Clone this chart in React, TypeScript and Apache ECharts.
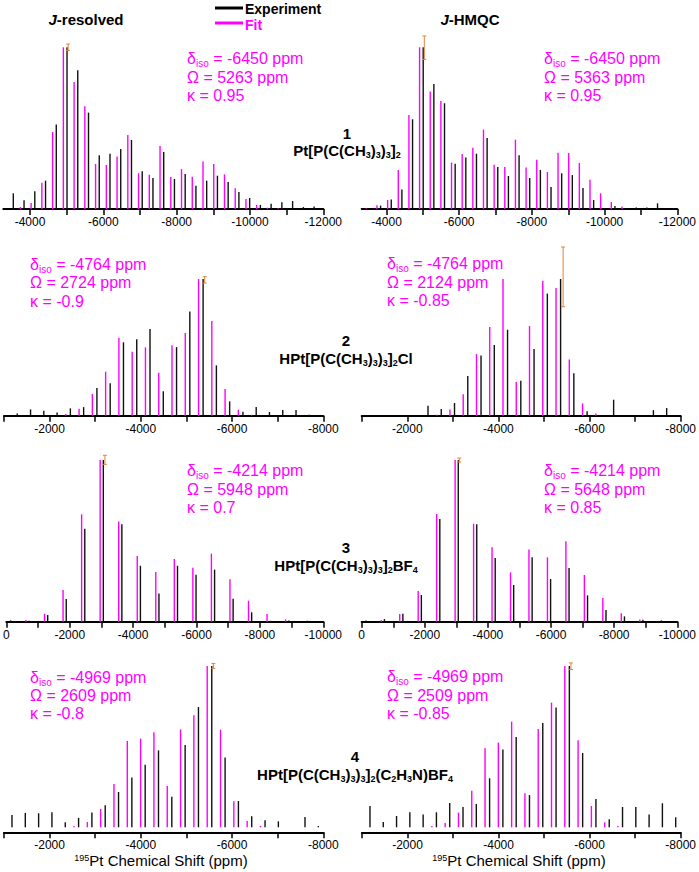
import React, { useEffect, useRef } from "react";
import * as echarts from "echarts";

const FONT = 'Arial, "Liberation Sans", Helvetica, sans-serif';
const BLACK = "#111111";
const MAGENTA = "#ff00ff";
const ORANGE = "#e0823a";

// ---------- Row 1 : Pt[P(C(CH3)3)3]2 ----------
const shiftExp1 = [-3545, -3838, -4131, -4424, -4717, -5010, -5303, -5596, -5889, -6182, -6475, -6768, -7061, -7354, -7647, -7940, -8233, -8526, -8819, -9112, -9405, -9698, -9991, -10284, -10577, -10870, -11163, -11456, -11749];
const shiftFit1 = [-3445, -3738, -4031, -4324, -4617, -4910, -5203, -5496, -5789, -6082, -6375, -6668, -6961, -7254, -7547, -7840, -8133, -8426, -8719, -9012, -9305, -9598, -9891, -10184, -10477, -10770];
const expJres1 = [9.7, 5.4, 10.9, 17.5, 52.2, 100, 85.8, 59.6, 33.2, 34.2, 37.1, 42.7, 23.3, 19.2, 35.3, 18.6, 21.6, 14.4, 17.5, 20.6, 16.7, 10.5, 6.8, 2.5, 3.3, 4.1, 4.9, 1.2, 1.6];
const fitJres1 = [0, 1.2, 3.7, 16.3, 47.6, 100, 78.6, 63.5, 27.8, 27.2, 32.4, 45.8, 22.1, 21.2, 39.0, 19.8, 24.7, 20.0, 29.3, 27.8, 21.4, 12.8, 6.2, 2.5, 0.8, 0.4];
const expHmqc1 = [0, 2.1, 5.8, 12.0, 55.5, 100, 77.3, 65.4, 28.0, 31.8, 34.2, 43.9, 26.0, 20.4, 33.2, 19.2, 24.1, 13.6, 22.1, 21.0, 13.0, 5.6, 0.5, 1.9, 0.5, 1.0, 1.0, 3.5, 0];
const fitHmqc1 = [0.4, 2.3, 5.6, 24.1, 58.1, 100, 72.6, 66.8, 28.7, 34.0, 37.9, 49.1, 27.4, 26.0, 42.9, 25.6, 30.5, 22.9, 34.8, 34.6, 28.5, 18.1, 9.7, 4.3, 1.6];
const errJres1 = [[-5040, 98, 102]];
const errHmqc1 = [[-5040, 92.5, 107]];

// ---------- Row 2 : HPt[P(C(CH3)3)3]2Cl ----------
const shiftExp2 = [-1291, -1582, -1873, -2164, -2455, -2746, -3037, -3328, -3619, -3910, -4201, -4492, -4783, -5074, -5365, -5656, -5947, -6238, -6529, -6820, -7111, -7402, -7693];
const shiftFit2 = [-1191, -1482, -1773, -2064, -2355, -2646, -2937, -3228, -3519, -3810, -4101, -4392, -4683, -4974, -5265, -5556, -5847, -6138, -6429];
const expJres2 = [1.7, 4.6, 3.7, 2.4, 5.4, 6.3, 20.2, 23.7, 53.7, 55.9, 63.4, 17.8, 50.2, 76.3, 100, 36.8, 10.5, 2.9, 6.3, 2.7, 4.1, 4.1, 0.7];
const fitJres2 = [0, 0, 0, 0, 1.2, 5.1, 15.9, 32.2, 57.1, 46.8, 50.0, 31.5, 51.5, 60.5, 100, 69.3, 19.5, 4.4, 0.7];
const expHmqc2 = [0, 0, 0, 0, 7.3, 4.9, 9.3, 29.0, 44.1, 51.7, 62.9, 25.6, 48.8, 89.3, 100, 31.0, 3.2, 0, 11.7, 0, 0, 4.1, 5.6];
const fitHmqc2 = [0, 0, 0, 0, 0, 0.7, 4.6, 15.6, 45.1, 64.9, 100, 24.6, 65.6, 98.8, 93.4, 41.2, 9.0, 1.7];
const errJres2 = [[-5400, 97, 101.7]];
const errHmqc2 = [[-5420, 79.7, 123.4]];

// ---------- Row 3 : HPt[P(C(CH3)3)3]2BF4 ----------
const shiftExp3 = [-135, -720, -1305, -1890, -2475, -3060, -3645, -4230, -4815, -5400, -5985, -6570, -7155, -7740, -8325, -8910, -9495];
const shiftFit3 = [-35, -620, -1205, -1790, -2375, -2960, -3545, -4130, -4715, -5300, -5885, -6470, -7055, -7640, -8225, -8810];
const expJres3 = [0.8, 0.6, 4.1, 14.0, 57.5, 100, 60.2, 34.6, 17.5, 34.6, 29.1, 32.2, 14.2, 5.8, 0.6, 0.8, 0.6];
const fitJres3 = [0, 1.0, 4.9, 19.6, 66.4, 100, 61.9, 40.6, 30.7, 38.8, 33.4, 42.1, 26.2, 13.0, 4.7, 1.4];
const expHmqc3 = [0.8, 1.6, 4.9, 16.5, 63.5, 100, 60.2, 39.4, 22.7, 39.8, 26.4, 33.2, 16.3, 7.2, 3.3, 1.2, 0.8];
const fitHmqc3 = [0, 1.0, 4.7, 19.0, 66.6, 100, 60.6, 46.0, 30.5, 44.7, 39.8, 49.7, 28.9, 14.6, 5.2, 1.4];
const errJres3 = [[-3110, 97.3, 102.9]];
const errHmqc3 = [[-3090, 98.7, 101.2]];

// ---------- Row 4 : HPt[P(C(CH3)3)3]2(C2H3N)BF4 ----------
const shiftExp4 = [-1175, -1467, -1759, -2051, -2343, -2635, -2927, -3219, -3511, -3803, -4095, -4387, -4679, -4971, -5263, -5555, -5847, -6139, -6431, -6723, -7015, -7307, -7599, -7891];
const shiftFit4 = [-1075, -1367, -1659, -1951, -2243, -2535, -2827, -3119, -3411, -3703, -3995, -4287, -4579, -4871, -5163, -5455, -5747, -6039, -6331, -6623];
const expJres4 = [7.6, 8.9, 8.7, 9.3, 3.1, 5.8, 9.1, 13.6, 21.9, 30.8, 38.8, 47.7, 19.0, 51.0, 74.6, 100, 43.2, 16.3, 6.8, 4.3, 3.7, 0, 6.4, 0.8];
const fitJres4 = [0, 0, 0, 0, 0, 0.8, 3.3, 11.4, 26.9, 53.5, 55.0, 58.9, 25.6, 60.7, 69.4, 100, 60.5, 16.1, 3.9, 0.8];
const expHmqc4 = [13.2, 3.3, 7.0, 9.3, 7.9, 9.3, 15.1, 12.6, 14.5, 30.4, 48.3, 56.0, 20.0, 64.7, 74.2, 100, 46.1, 17.6, 5.0, 12.6, 12.6, 7.9, 14.9, 6.2];
const fitHmqc4 = [0, 0, 0, 0, 0, 0.8, 2.7, 9.1, 22.7, 49.0, 52.5, 65.5, 21.1, 61.0, 77.3, 100, 53.9, 13.2, 3.1, 0.8];
const errJres4 = [[-5590, 98.5, 101.6]];
const errHmqc4 = [[-5590, 97.8, 101.9]];

// ---------- axis ticks / labels ----------
const ticksRow1 = [-4000, -5000, -6000, -7000, -8000, -9000, -10000, -11000, -12000];
const labelsRow1 = [-4000, -6000, -8000, -10000, -12000];
const ticksRow2 = [-1000, -2000, -3000, -4000, -5000, -6000, -7000, -8000];
const labelsRow2 = [-2000, -4000, -6000, -8000];
const ticksRow3 = [0, -1000, -2000, -3000, -4000, -5000, -6000, -7000, -8000, -9000, -10000];
const labelsRow3 = [0, -2000, -4000, -6000, -8000, -10000];
const ticksRow4 = [-1000, -2000, -3000, -4000, -5000, -6000, -7000, -8000];
const labelsRow4 = [-2000, -4000, -6000, -8000];

// ---------- fit parameters (δiso, Ω, κ) ----------
const paramsJres = [["-6450", "5263", "0.95"], ["-4764", "2724", "-0.9"], ["-4214", "5948", "0.7"], ["-4969", "2609", "-0.8"]];
const paramsHmqc = [["-6450", "5363", "0.95"], ["-4764", "2124", "-0.85"], ["-4214", "5648", "0.85"], ["-4969", "2509", "-0.85"]];
const compoundNumbers = ["1", "2", "3", "4"];
const compoundFormulas = ["Pt[P(C(CH_3)_3)_3]_2", "HPt[P(C(CH_3)_3)_3]_2Cl", "HPt[P(C(CH_3)_3)_3]_2BF_4", "HPt[P(C(CH_3)_3)_3]_2(C_2H_3N)BF_4"];

// ---------- layout (pixels) ----------
const panels = [
  { exp: shiftExp1, expH: expJres1, fit: shiftFit1, fitH: fitJres1, err: errJres1, left: 3.3, top: 47.3, width: 320, height: 161.7, min: -12000, max: -3272, ymin: 0, ticks: ticksRow1, labels: labelsRow1 },
  { exp: shiftExp1, expH: expHmqc1, fit: shiftFit1, fitH: fitHmqc1, err: errHmqc1, left: 361.7, top: 47.3, width: 318.3, height: 161.7, min: -12000, max: -3318, ymin: 0, ticks: ticksRow1, labels: labelsRow1 },
  { exp: shiftExp2, expH: expJres2, fit: shiftFit2, fitH: fitJres2, err: errJres2, left: 4, top: 279, width: 319.3, height: 136.7, min: -8000, max: -1000, ymin: 0, ticks: ticksRow2, labels: labelsRow2 },
  { exp: shiftExp2, expH: expHmqc2, fit: shiftFit2, fitH: fitHmqc2, err: errHmqc2, left: 361.7, top: 279, width: 319.3, height: 136.7, min: -8000, max: -1000, ymin: 0, ticks: ticksRow2, labels: labelsRow2 },
  { exp: shiftExp3, expH: expJres3, fit: shiftFit3, fitH: fitJres3, err: errJres3, left: 4, top: 460, width: 319.3, height: 161.7, min: -10000, max: 0, ymin: 0, ticks: ticksRow3, labels: labelsRow3 },
  { exp: shiftExp3, expH: expHmqc3, fit: shiftFit3, fitH: fitHmqc3, err: errHmqc3, left: 361.7, top: 460, width: 319.3, height: 161.7, min: -10000, max: 0, ymin: 0, ticks: ticksRow3, labels: labelsRow3 },
  { exp: shiftExp4, expH: expJres4, fit: shiftFit4, fitH: fitJres4, err: errJres4, left: 4, top: 666, width: 319.3, height: 166.3, min: -8000, max: -1000, ymin: -3.1, ticks: ticksRow4, labels: labelsRow4 },
  { exp: shiftExp4, expH: expHmqc4, fit: shiftFit4, fitH: fitHmqc4, err: errHmqc4, left: 362, top: 666, width: 319, height: 166.3, min: -8000, max: -1000, ymin: -3.1, ticks: ticksRow4, labels: labelsRow4 },
];
const annotationPos = [
  { x: 187, y: [58, 77, 95] }, { x: 544, y: [58, 77, 95] },
  { x: 30, y: [264, 282, 301] }, { x: 387, y: [263, 282, 300] },
  { x: 187, y: [470, 489, 507] }, { x: 544, y: [470, 489, 507] },
  { x: 30, y: [677, 695, 713] }, { x: 387, y: [676, 695, 713] },
];
const compoundPos = [
  { x: 347, yn: 133, yf: 150 },
  { x: 346, yn: 340, yf: 358 },
  { x: 346, yn: 547, yf: 565 },
  { x: 355, yn: 756, yf: 774 },
];

function chemRich(formula: string): string {
  let out = "";
  let buf = "";
  for (let i = 0; i < formula.length; i++) {
    const c = formula[i];
    if (c === "_") {
      if (buf) { out += "{b|" + buf + "}"; buf = ""; }
      out += "{s|" + formula[i + 1] + "}";
      i++;
    } else buf += c;
  }
  if (buf) out += "{b|" + buf + "}";
  return out;
}

function stickRender(color: string) {
  return (params: any, api: any) => {
    const x = api.value(0);
    const h = api.value(1);
    const p0 = api.coord([x, 0]);
    const p1 = api.coord([x, h]);
    return {
      type: "line",
      shape: { x1: p0[0], y1: p0[1], x2: p1[0], y2: p1[1] },
      style: { stroke: color, lineWidth: 1.4 },
    };
  };
}

function errRender(params: any, api: any) {
  const x = api.value(0);
  const p0 = api.coord([x, api.value(1)]);
  const p1 = api.coord([x, api.value(2)]);
  const w = 2;
  const st = { stroke: ORANGE, lineWidth: 1 };
  return {
    type: "group",
    children: [
      { type: "line", shape: { x1: p0[0], y1: p0[1], x2: p1[0], y2: p1[1] }, style: st },
      { type: "line", shape: { x1: p0[0] - w, y1: p0[1], x2: p0[0] + w, y2: p0[1] }, style: st },
      { type: "line", shape: { x1: p1[0] - w, y1: p1[1], x2: p1[0] + w, y2: p1[1] }, style: st },
    ],
  };
}

function buildOption() {
  const grid = panels.map((p) => ({ left: p.left, top: p.top, width: p.width, height: p.height, show: false }));
  const xAxis = panels.map((p, i) => ({
    type: "value",
    gridIndex: i,
    min: p.min,
    max: p.max,
    inverse: true,
    position: "bottom",
    axisLine: { show: true, onZero: false, lineStyle: { color: "#000", width: 2 } },
    axisTick: { show: true, customValues: p.ticks, length: 6, inside: false, lineStyle: { color: "#000", width: 1.5 } },
    axisLabel: {
      show: true,
      customValues: p.labels,
      fontSize: 12,
      lineHeight: 12,
      color: "#000",
      margin: 7,
      fontFamily: FONT,
      formatter: (v: number) => String(v),
    },
    splitLine: { show: false },
  }));
  const yAxis = panels.map((p, i) => ({ type: "value", gridIndex: i, min: p.ymin, max: 100, show: false }));
  const series: any[] = [];
  panels.forEach((p, i) => {
    series.push({
      type: "custom",
      coordinateSystem: "cartesian2d",
      xAxisIndex: i,
      yAxisIndex: i,
      clip: false,
      silent: true,
      encode: { x: 0, y: 1 },
      data: p.fit.map((x, k) => [x, p.fitH[k] || 0]).filter((d) => d[1] > 0),
      renderItem: stickRender(MAGENTA),
    });
    series.push({
      type: "custom",
      coordinateSystem: "cartesian2d",
      xAxisIndex: i,
      yAxisIndex: i,
      clip: false,
      silent: true,
      encode: { x: 0, y: 1 },
      data: p.exp.map((x, k) => [x, p.expH[k] || 0]).filter((d) => d[1] > 0),
      renderItem: stickRender(BLACK),
    });
    series.push({
      type: "custom",
      coordinateSystem: "cartesian2d",
      xAxisIndex: i,
      yAxisIndex: i,
      clip: false,
      silent: true,
      encode: { x: 0, y: [1, 2] },
      data: p.err,
      renderItem: errRender,
    });
  });

  const graphic: any[] = [];
  const text = (x: number, y: number, t: string, rich: any, align = "left") => ({
    type: "text",
    x,
    y,
    silent: true,
    style: { text: t, rich, align, verticalAlign: "middle", textAlign: align, textVerticalAlign: "middle", fontFamily: FONT },
  });

  // header
  const hdrRich = {
    i: { fontSize: 15, lineHeight: 13, fontWeight: "bold", fontStyle: "italic", fontFamily: FONT, fill: "#000" },
    b: { fontSize: 15, lineHeight: 13, fontWeight: "bold", fontFamily: FONT, fill: "#000" },
  };
  const legRich = {
    b: { fontSize: 14, lineHeight: 13, fontWeight: "bold", fontFamily: FONT, fill: "#000" },
    m: { fontSize: 14, lineHeight: 13, fontWeight: "bold", fontFamily: FONT, fill: MAGENTA },
  };
  graphic.push(text(86, 19, "{i|J}{b|-resolved}", hdrRich, "center"));
  graphic.push(text(470, 19, "{i|J}{b|-HMQC}", hdrRich, "center"));
  graphic.push({ type: "line", silent: true, shape: { x1: 215, y1: 8, x2: 243, y2: 8 }, style: { stroke: "#000", lineWidth: 3 } });
  graphic.push({ type: "line", silent: true, shape: { x1: 215, y1: 23, x2: 243, y2: 23 }, style: { stroke: MAGENTA, lineWidth: 3 } });
  graphic.push(text(245, 8.5, "{b|Experiment}", legRich, "left"));
  graphic.push(text(245, 24.5, "{m|Fit}", legRich, "left"));

  // annotations
  const annRich = {
    a: { fontSize: 16, lineHeight: 20, fontFamily: FONT, fill: MAGENTA },
    s: { fontSize: 10, lineHeight: 10, verticalAlign: "bottom", fontFamily: FONT, fill: MAGENTA },
  };
  annotationPos.forEach((pos, i) => {
    const prm = i % 2 === 0 ? paramsJres[i >> 1] : paramsHmqc[i >> 1];
    graphic.push(text(pos.x, pos.y[0], "{a|δ}{s|iso}{a| = " + prm[0] + " ppm}", annRich));
    graphic.push(text(pos.x, pos.y[1], "{a|Ω = " + prm[1] + " ppm}", annRich));
    graphic.push(text(pos.x, pos.y[2], "{a|κ = " + prm[2] + "}", annRich));
  });

  // compounds
  const chemStyle = {
    b: { fontSize: 15, lineHeight: 19, fontWeight: "bold", fontFamily: FONT, fill: "#000" },
    s: { fontSize: 9, lineHeight: 9, fontWeight: "bold", verticalAlign: "bottom", fontFamily: FONT, fill: "#000" },
  };
  compoundPos.forEach((pos, i) => {
    graphic.push(text(pos.x, pos.yn, "{b|" + compoundNumbers[i] + "}", chemStyle, "center"));
    graphic.push(text(pos.x, pos.yf, chemRich(compoundFormulas[i]), chemStyle, "center"));
  });

  // axis titles
  const titleRich = {
    t: { fontSize: 15, lineHeight: 14, fontFamily: FONT, fill: "#000" },
    u: { fontSize: 9, lineHeight: 9, verticalAlign: "top", fontFamily: FONT, fill: "#000" },
  };
  graphic.push(text(161, 860, "{u|195}{t|Pt Chemical Shift (ppm)}", titleRich, "center"));
  graphic.push(text(519, 860, "{u|195}{t|Pt Chemical Shift (ppm)}", titleRich, "center"));

  return {
    animation: false,
    backgroundColor: "#ffffff",
    grid,
    xAxis,
    yAxis,
    series,
    graphic,
  };
}

export default function App() {
  const ref = useRef<HTMLDivElement>(null);
  useEffect(() => {
    if (!ref.current) return;
    const chart = echarts.init(ref.current, undefined, { renderer: "svg" });
    chart.setOption(buildOption() as any);
    return () => chart.dispose();
  }, []);
  return <div ref={ref} style={{ position: "absolute", left: 0, top: 0, width: 699, height: 872 }} />;
}
